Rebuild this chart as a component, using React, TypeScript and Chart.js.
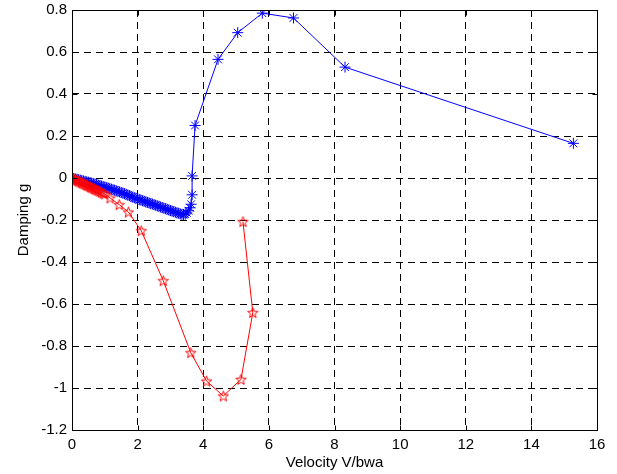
import React, { useEffect, useRef } from "react";
import { Chart, registerables } from "chart.js";

Chart.register(...registerables);

// Blue series (asterisk markers)
const blueX = [
  0.0, 0.05, 0.1, 0.15, 0.2, 0.25, 0.3, 0.35, 0.4, 0.45, 0.5, 0.55, 0.6, 0.65, 0.7,
  0.75, 0.8, 0.85, 0.9, 0.95, 1.0, 1.05, 1.1, 1.15, 1.2, 1.25, 1.3, 1.35, 1.4, 1.45,
  1.5, 1.55, 1.6, 1.65, 1.7, 1.75, 1.8, 1.85, 1.9, 1.95, 2.0, 2.05, 2.1, 2.15, 2.2,
  2.25, 2.3, 2.35, 2.4, 2.45, 2.5, 2.55, 2.6, 2.65, 2.7, 2.75, 2.8, 2.85, 2.9, 2.95,
  3.0, 3.05, 3.1, 3.15, 3.2, 3.25, 3.3, 3.35, 3.4, 3.45, 3.5, 3.55, 3.6, 3.63, 3.66,
  3.66, 3.75, 4.45, 5.05, 5.8, 6.75, 8.32, 15.28,
];
const blueY = [
  0.0, -0.002, -0.004, -0.006, -0.008, -0.01, -0.012, -0.014, -0.016, -0.018, -0.02,
  -0.022, -0.024, -0.027, -0.029, -0.031, -0.034, -0.036, -0.038, -0.041, -0.043,
  -0.046, -0.048, -0.051, -0.053, -0.056, -0.058, -0.061, -0.064, -0.066, -0.069,
  -0.072, -0.075, -0.078, -0.081, -0.084, -0.088, -0.091, -0.094, -0.097, -0.1,
  -0.103, -0.105, -0.108, -0.111, -0.114, -0.116, -0.119, -0.122, -0.124, -0.127,
  -0.13, -0.133, -0.135, -0.138, -0.141, -0.144, -0.146, -0.149, -0.152, -0.155,
  -0.158, -0.16, -0.163, -0.166, -0.168, -0.171, -0.173, -0.174, -0.172, -0.166,
  -0.156, -0.142, -0.125, -0.08, 0.01, 0.25, 0.565, 0.692, 0.785, 0.762, 0.528, 0.165,
];

// Red series (pentagram markers)
const redX = [
  0.0, 0.04, 0.08, 0.12, 0.16, 0.2, 0.24, 0.28, 0.32, 0.36, 0.4, 0.44, 0.48, 0.52,
  0.56, 0.6, 0.64, 0.68, 0.72, 0.76, 0.8, 0.85, 0.9, 0.95, 1.0, 1.16, 1.44, 1.72,
  2.11, 2.78, 3.62, 4.1, 4.61, 5.15, 5.51, 5.21,
];
const redY = [
  0.0, -0.003, -0.006, -0.009, -0.012, -0.015, -0.018, -0.021, -0.024, -0.027, -0.03,
  -0.033, -0.036, -0.039, -0.042, -0.045, -0.048, -0.051, -0.054, -0.057, -0.06,
  -0.064, -0.068, -0.072, -0.076, -0.095, -0.127, -0.162, -0.251, -0.489, -0.832,
  -0.967, -1.038, -0.959, -0.641, -0.208,
];

const xTicks = [0, 2, 4, 6, 8, 10, 12, 14, 16];
const yTicks = [-1.2, -1, -0.8, -0.6, -0.4, -0.2, 0, 0.2, 0.4, 0.6, 0.8];

const FONT = "'Liberation Sans', Arial, Helvetica, sans-serif";

function makePentagram(size: number, color: string): HTMLCanvasElement {
  const c = document.createElement("canvas");
  c.width = size;
  c.height = size;
  const ctx = c.getContext("2d")!;
  const cx = size / 2;
  const cy = size / 2 + 0.5;
  const R = size / 2 - 1;
  const r = R * 0.42;
  ctx.beginPath();
  for (let i = 0; i < 10; i++) {
    const rad = i % 2 === 0 ? R : r;
    const a = -Math.PI / 2 + (i * Math.PI) / 5;
    const px = cx + rad * Math.cos(a);
    const py = cy + rad * Math.sin(a);
    if (i === 0) ctx.moveTo(px, py);
    else ctx.lineTo(px, py);
  }
  ctx.closePath();
  ctx.strokeStyle = color;
  ctx.lineWidth = 1;
  ctx.stroke();
  return c;
}

const boxPlugin = {
  id: "boxPlugin",
  afterDraw(chart: any) {
    const { ctx, chartArea } = chart;
    const { left, right, top, bottom } = chartArea;
    const xs = chart.scales.x;
    const ys = chart.scales.y;
    ctx.save();
    ctx.strokeStyle = "#000";
    ctx.lineWidth = 1;
    ctx.setLineDash([]);
    const L = Math.round(left) + 0.5;
    const R = Math.round(right) + 0.5;
    const T = Math.round(top) + 0.5;
    const B = Math.round(bottom) + 0.5;
    ctx.strokeRect(L, T, R - L, B - T);
    const tl = 5;
    ctx.beginPath();
    xTicks.forEach((v) => {
      const px = Math.round(xs.getPixelForValue(v)) + 0.5;
      ctx.moveTo(px, B);
      ctx.lineTo(px, B - tl);
      ctx.moveTo(px, T);
      ctx.lineTo(px, T + tl);
    });
    yTicks.forEach((v) => {
      const py = Math.round(ys.getPixelForValue(v)) + 0.5;
      ctx.moveTo(L, py);
      ctx.lineTo(L + tl, py);
      ctx.moveTo(R, py);
      ctx.lineTo(R - tl, py);
    });
    ctx.stroke();
    ctx.restore();
  },
};

export default function App() {
  const ref = useRef<HTMLCanvasElement>(null);
  useEffect(() => {
    if (!ref.current) return;
    const pent = makePentagram(13, "#ff0000");
    const chart = new Chart(ref.current, {
      type: "scatter",
      data: {
        datasets: [
          {
            label: "red",
            data: redX.map((x, i) => ({ x, y: redY[i] })),
            showLine: true,
            borderColor: "#ff0000",
            backgroundColor: "#ff0000",
            borderWidth: 1,
            pointStyle: pent as any,
            pointRadius: 6,
            pointBorderColor: "#ff0000",
          },
          {
            label: "blue",
            data: blueX.map((x, i) => ({ x, y: blueY[i] })),
            showLine: true,
            borderColor: "#0000ff",
            backgroundColor: "#0000ff",
            borderWidth: 1,
            pointStyle: "star",
            pointRadius: 5.5,
            pointBorderWidth: 1,
            pointBorderColor: "#0000ff",
          },
        ],
      },
      options: {
        responsive: false,
        animation: false,
        events: [],
        layout: { padding: { top: 10, right: 20, left: 0, bottom: 0 } },
        plugins: {
          legend: { display: false },
          tooltip: { enabled: false },
        },
        scales: {
          x: {
            type: "linear",
            min: 0,
            max: 16,
            afterFit: (s: any) => {
              s.height = 44;
              s.paddingLeft = 0;
              s.paddingRight = 0;
            },
            afterBuildTicks: (s: any) => {
              s.ticks = xTicks.map((v) => ({ value: v }));
            },
            grid: { color: "#000", lineWidth: 1, drawTicks: false },
            border: { display: false, dash: [7, 5] },
            ticks: {
              color: "#000",
              padding: 6,
              font: { family: FONT, size: 15 },
              maxRotation: 0,
              callback: (v: any) => String(v),
            },
            title: {
              display: true,
              text: "Velocity V/bwa",
              color: "#000",
              font: { family: FONT, size: 15 },
              padding: { top: 0, bottom: 2 },
            },
          },
          y: {
            type: "linear",
            min: -1.2,
            max: 0.8,
            afterFit: (s: any) => {
              s.width = 72;
              s.paddingTop = 0;
              s.paddingBottom = 0;
            },
            afterBuildTicks: (s: any) => {
              s.ticks = yTicks.map((v) => ({ value: v }));
            },
            grid: { color: "#000", lineWidth: 1, drawTicks: false },
            border: { display: false, dash: [7, 5] },
            ticks: {
              color: "#000",
              padding: 5,
              font: { family: FONT, size: 15 },
              callback: (v: any) => String(Math.round(v * 10) / 10),
            },
            title: {
              display: true,
              text: "Damping g",
              color: "#000",
              font: { family: FONT, size: 15 },
              padding: { top: 15, bottom: 0 },
            },
          },
        },
      },
      plugins: [boxPlugin],
    });
    return () => chart.destroy();
  }, []);

  return (
    <div style={{ position: "fixed", left: 0, top: 0, width: 617, height: 474, background: "#fff" }}>
      <canvas ref={ref} width={617} height={474} style={{ width: 617, height: 474 }} />
    </div>
  );
}
